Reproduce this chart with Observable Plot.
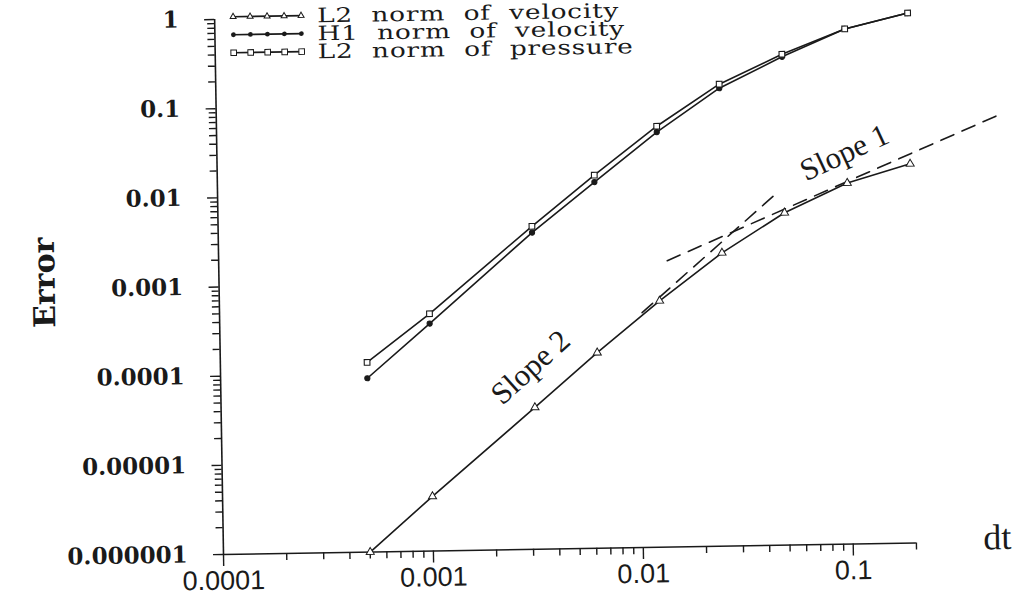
<!DOCTYPE html>
<html>
<head>
<meta charset="utf-8">
<script src="https://cdn.jsdelivr.net/npm/d3@7"></script>
<script src="https://cdn.jsdelivr.net/npm/@observablehq/plot@0.6"></script>
<style>
  html, body { margin: 0; padding: 0; background: #fff; }
  #wrap { position: relative; width: 1034px; height: 601px; overflow: hidden;
          transform: rotate(-0.95deg); transform-origin: 223px 554px; }
  #legend { position: absolute; left: 238px; top: 8px; font-family: "DejaVu Serif", serif;
            font-size: 20px; color: #1a1a1a; letter-spacing: 0.6px; word-spacing: 7px; line-height: 18px; }
  #legend .row { display: flex; align-items: center; height: 18px; white-space: nowrap; }
  #legend svg { margin-right: 12px; flex: none; }
  #legend span { display: inline-block; transform: scaleX(1.32); transform-origin: 0 50%; }
</style>
</head>
<body>
<div id="wrap"><div id="chart"></div><div id="legend"></div></div>
<script>
// ---- data ----
const dt = [0.0005, 0.001, 0.003125, 0.00625, 0.0125, 0.025, 0.05, 0.1, 0.2];
const l2Velocity = [1.0e-6, 4.1e-6, 3.9e-5, 1.56e-4, 5.8e-4, 1.95e-3, 5.34e-3, 1.12e-2, 1.79e-2];
const h1Velocity = [8.9e-5, 3.56e-4, 3.57e-3, 1.28e-2, 4.53e-2, 0.137, 0.30, 0.60, 0.88];
const l2Pressure = [1.34e-4, 4.58e-4, 4.19e-3, 1.53e-2, 5.27e-2, 0.152, 0.32, 0.60, 0.88];

const slope1Dt = [0.0137, 0.56];
const slope1Err = [1.63e-3, 0.064];
const slope2Dt = [0.0103, 0.0445];
const slope2Err = [4.31e-4, 8.3e-3];

const seriesNames = ["L2 norm of velocity", "H1 norm of velocity", "L2 norm of pressure"];
const xTickValues = [0.0001, 0.001, 0.01, 0.1];
const xTickLabels = ["0.0001", "0.001", "0.01", "0.1"];
const yTickValues = [1, 0.1, 0.01, 0.001, 0.0001, 0.00001, 0.000001];
const yTickLabels = ["1", "0.1", "0.01", "0.001", "0.0001", "0.00001", "0.000001"];

const annotations = [
  {label: "Slope 2", dt: 0.0030, err: 1.1e-4, angle: -41},
  {label: "Slope 1", dt: 0.0975, err: 0.0245, angle: -24}
];

// ---- tables ----
const toRows = (xs, ys) => xs.map((d, i) => ({dt: d, err: ys[i]}));
const rowsL2v = toRows(dt, l2Velocity);
const rowsH1v = toRows(dt, h1Velocity);
const rowsL2p = toRows(dt, l2Pressure);
const rowsS1 = toRows(slope1Dt, slope1Err);
const rowsS2 = toRows(slope2Dt, slope2Err);

const xDomain = [1e-4, 0.2];
const yDomain = [1e-6, 1];
const near = (a, b) => Math.abs(a - b) / b < 1e-6;
const xMinor = d3.scaleLog().domain(xDomain).ticks().filter(v => !xTickValues.some(t => near(v, t)));
const yMinor = d3.scaleLog().domain(yDomain).ticks().filter(v => !yTickValues.some(t => near(v, t)));
const xLab = d => xTickLabels[xTickValues.findIndex(t => near(d, t))];
const yLab = d => yTickLabels[yTickValues.findIndex(t => near(d, t))];

const ink = "#1a1a1a";
const lineW = 1.6;
const serif = "Liberation Serif, Times New Roman, serif";

const chart = Plot.plot({
  width: 1034,
  height: 601,
  marginLeft: 223,
  marginRight: 118,
  marginTop: 19,
  marginBottom: 47,
  style: {background: "#fff", color: ink, overflow: "visible"},
  x: {type: "log", domain: xDomain, axis: null, label: null},
  y: {type: "log", domain: yDomain, axis: null, label: null},
  marks: [
    // axis lines
    Plot.ruleY([yDomain[0]], {stroke: ink, strokeWidth: lineW}),
    Plot.ruleX([xDomain[0]], {stroke: ink, strokeWidth: lineW}),
    // x ticks
    Plot.axisX({ticks: xMinor, tickSize: 7, tickFormat: () => "", label: null, stroke: ink, strokeWidth: 1.4}),
    Plot.axisX({ticks: xTickValues, tickSize: 12, tickPadding: 4, tickFormat: xLab, label: null, stroke: ink, strokeWidth: 1.4,
                fontSize: 27, fontFamily: "Liberation Sans, Arial, sans-serif", fill: ink}),
    // y ticks
    Plot.axisY({ticks: yMinor, tickSize: 7, tickFormat: () => "", label: null, stroke: ink, strokeWidth: 1.4}),
    Plot.axisY({ticks: yTickValues, tickSize: 10, tickPadding: 26, tickFormat: yLab, label: null, stroke: ink, strokeWidth: 1.4,
                fontSize: 23, fontWeight: "bold", fontFamily: "DejaVu Serif, serif", fill: ink}),
    // reference slopes
    Plot.line(rowsS1, {x: "dt", y: "err", stroke: ink, strokeWidth: 1.6, strokeDasharray: "14,9"}),
    Plot.line(rowsS2, {x: "dt", y: "err", stroke: ink, strokeWidth: 1.6, strokeDasharray: "14,9"}),
    // series
    Plot.line(rowsL2v, {x: "dt", y: "err", stroke: ink, strokeWidth: lineW}),
    Plot.line(rowsH1v, {x: "dt", y: "err", stroke: ink, strokeWidth: lineW}),
    Plot.line(rowsL2p, {x: "dt", y: "err", stroke: ink, strokeWidth: lineW}),
    Plot.dot(rowsL2v, {x: "dt", y: "err", symbol: "triangle", r: 3, fill: "#fff", stroke: ink, strokeWidth: 1}),
    Plot.dot(rowsH1v, {x: "dt", y: "err", symbol: "circle", r: 2.6, fill: ink, stroke: ink, strokeWidth: 1}),
    Plot.dot(rowsL2p, {x: "dt", y: "err", symbol: "square", r: 3.2, fill: "#fff", stroke: ink, strokeWidth: 1.1}),
    // annotations
    Plot.text([annotations[0]], {x: "dt", y: "err", text: "label", rotate: annotations[0].angle,
               fontSize: 31, fontFamily: serif, fill: ink}),
    Plot.text([annotations[1]], {x: "dt", y: "err", text: "label", rotate: annotations[1].angle,
               fontSize: 31, fontFamily: serif, fill: ink}),
    // axis titles
    Plot.text(["Error"], {frameAnchor: "left", y: () => 1.2e-3, text: d => d, rotate: -90, dx: -174,
               textAnchor: "middle", lineAnchor: "middle",
               fontSize: 30, fontWeight: "bold", fontFamily: "DejaVu Serif, serif", fill: ink}),
    Plot.text(["dt"], {frameAnchor: "bottom-right", text: d => d, dx: 81, dy: -4,
               textAnchor: "middle", lineAnchor: "middle",
               fontSize: 36, fontFamily: serif, fill: ink})
  ]
});
document.getElementById("chart").appendChild(chart);

// ---- legend (inside the plot, top-left) ----
const symbols = ["triangle", "circle", "square"];
const legend = document.getElementById("legend");
const ns = "http://www.w3.org/2000/svg";
seriesNames.forEach((name, i) => {
  const row = document.createElement("div");
  row.className = "row";
  const s = document.createElementNS(ns, "svg");
  s.setAttribute("width", 76); s.setAttribute("height", 14);
  const ln = document.createElementNS(ns, "line");
  ln.setAttribute("x1", 3); ln.setAttribute("x2", 73); ln.setAttribute("y1", 7); ln.setAttribute("y2", 7);
  ln.setAttribute("stroke", ink); ln.setAttribute("stroke-width", 1.6);
  s.appendChild(ln);
  for (let k = 0; k < 5; k++) {
    const cx = 4 + k * 17;
    let m;
    if (symbols[i] === "circle") {
      m = document.createElementNS(ns, "circle");
      m.setAttribute("cx", cx); m.setAttribute("cy", 7); m.setAttribute("r", 2.4);
      m.setAttribute("fill", ink);
    } else if (symbols[i] === "square") {
      m = document.createElementNS(ns, "rect");
      m.setAttribute("x", cx - 2.8); m.setAttribute("y", 4.2); m.setAttribute("width", 5.6); m.setAttribute("height", 5.6);
      m.setAttribute("fill", "#fff"); m.setAttribute("stroke", ink);
    } else {
      m = document.createElementNS(ns, "path");
      m.setAttribute("d", `M${cx},3.5 L${cx + 3},8.8 L${cx - 3},8.8 Z`);
      m.setAttribute("fill", "#fff"); m.setAttribute("stroke", ink);
    }
    s.appendChild(m);
  }
  row.appendChild(s);
  const t = document.createElement("span");
  t.textContent = name;
  row.appendChild(t);
  legend.appendChild(row);
});
</script>
</body>
</html>
